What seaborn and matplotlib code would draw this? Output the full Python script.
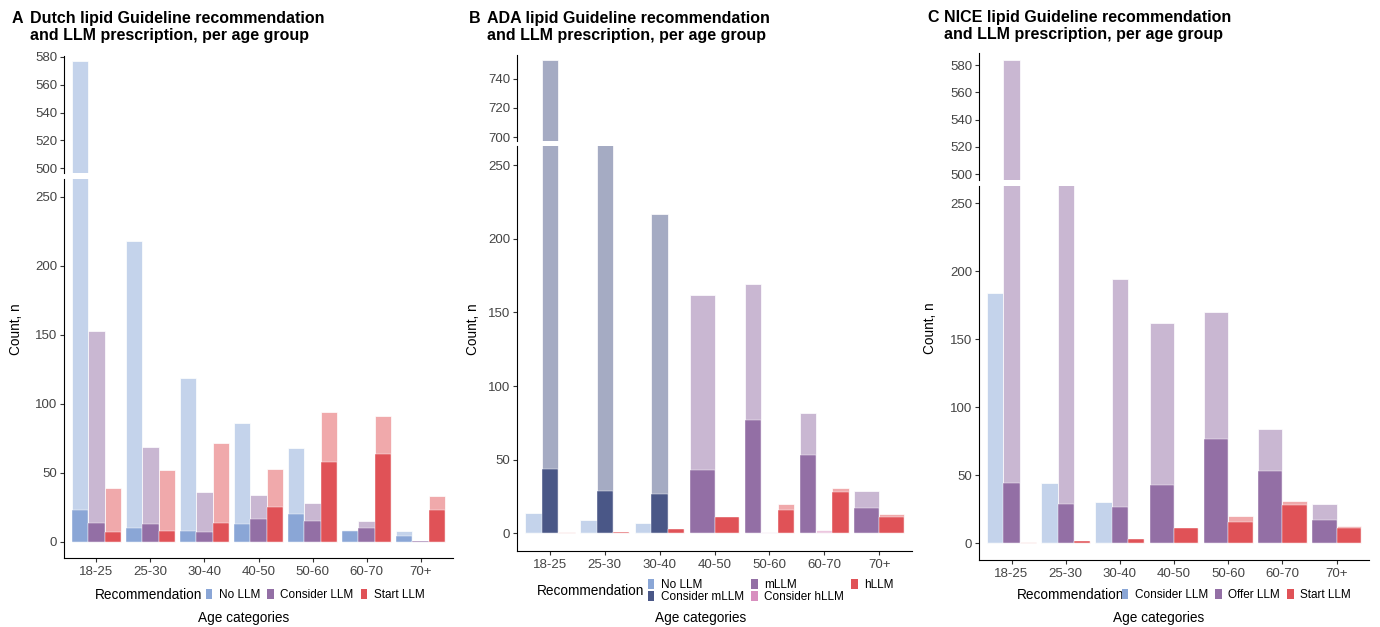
import matplotlib
matplotlib.use('Agg')
import matplotlib.pyplot as plt
from matplotlib.colors import to_rgb
from matplotlib.patches import Patch
import pandas as pd
import seaborn as sns

ages = ['18-25', '25-30', '30-40', '40-50', '50-60', '60-70', '70+']

# A: Dutch guideline (light = guideline recommendation, dark = LLM prescription)
dutch_recs = ['No LLM', 'Consider LLM', 'Start LLM']
dutch_no_guide = [577, 218, 119, 86, 68, 9, 8]
dutch_no_llm = [23, 10, 8, 13, 20, 8, 4]
dutch_consider_guide = [153, 69, 36, 34, 28, 15, 1]
dutch_consider_llm = [14, 13, 7, 17, 15, 10, 1]
dutch_start_guide = [39, 52, 72, 53, 94, 91, 33]
dutch_start_llm = [7, 8, 14, 25, 58, 64, 23]

# B: ADA guideline (None = category not recommended in that age group)
ada_recs = ['No LLM', 'Consider mLLM', 'mLLM', 'Consider hLLM', 'hLLM']
ada_no_guide = [14, 9, 7, None, None, None, None]
ada_no_llm = [0, 0, 0, None, None, None, None]
ada_cons_m_guide = [753, 268, 217, None, None, None, None]
ada_cons_m_llm = [44, 29, 27, None, None, None, None]
ada_m_guide = [None, None, None, 162, 169, 82, 29]
ada_m_llm = [None, None, None, 43, 77, 53, 17]
ada_cons_h_guide = [None, None, None, None, 1, 2, None]
ada_cons_h_llm = [None, None, None, None, 0, 0, None]
ada_h_guide = [1, 1, 3, 11, 20, 31, 13]
ada_h_llm = [0, 1, 3, 11, 16, 28, 11]

# C: NICE guideline
nice_recs = ['Consider LLM', 'Offer LLM', 'Start LLM']
nice_consider_guide = [184, 44, 30, None, None, None, None]
nice_consider_llm = [0, 0, 0, None, None, None, None]
nice_offer_guide = [584, 270, 194, 162, 170, 84, 29]
nice_offer_llm = [44, 29, 27, 43, 77, 53, 17]
nice_start_guide = [1, 2, 3, 11, 20, 31, 13]
nice_start_llm = [0, 2, 3, 11, 16, 28, 11]

BLUE, PURPLE, RED = '#8AA6D6', '#936FA5', '#E05257'
NAVY, PINK = '#4A5787', '#D88FBF'


def build_table(recs, series):
    rows = []
    for rec, (guide, llm) in zip(recs, series):
        for i, (g, l) in enumerate(zip(guide, llm)):
            if g is not None:
                rows.append({'age_idx': i, 'rec': rec, 'order': recs.index(rec),
                             'guide': g, 'llm': l})
    df = pd.DataFrame(rows).sort_values(['age_idx', 'order']).reset_index(drop=True)
    # ggplot-like dodge: categories present in a group share 0.9 of the slot
    df['k'] = df.groupby('age_idx').cumcount()
    df['n'] = df.groupby('age_idx')['guide'].transform('count')
    df['pos'] = df['age_idx'] - 0.45 + 0.9 / df['n'] * (df['k'] + 0.5)
    return df


def lighten(c, a=0.5):
    r, g, b = to_rgb(c)
    return (1 - a + a * r, 1 - a + a * g, 1 - a + a * b)


panels = [
    dict(letter='A', title=['Dutch lipid Guideline recommendation', 'and LLM prescription, per age group'],
         df=build_table(dutch_recs, [(dutch_no_guide, dutch_no_llm),
                                     (dutch_consider_guide, dutch_consider_llm),
                                     (dutch_start_guide, dutch_start_llm)]),
         recs=dutch_recs, pal=dict(zip(dutch_recs, [BLUE, PURPLE, RED])),
         x=(64, 453), top=(56, 173), bot=(179, 558), toplim=(496.5, 580.7), botlim=(-11.6, 263),
         topticks=[500, 520, 540, 560, 580], letter_x=12, title_x=30, base=(22.7, 40),
         ylab=(15.5, 329), xlab=(244, 618), legtitle_x=95, leg_x=206, leg_y=595, ncol=3),
    dict(letter='B', title=['ADA lipid Guideline recommendation', 'and LLM prescription, per age group'],
         df=build_table(ada_recs, [(ada_no_guide, ada_no_llm), (ada_cons_m_guide, ada_cons_m_llm),
                                   (ada_m_guide, ada_m_llm), (ada_cons_h_guide, ada_cons_h_llm),
                                   (ada_h_guide, ada_h_llm)]),
         recs=ada_recs, pal=dict(zip(ada_recs, [BLUE, NAVY, PURPLE, PINK, RED])),
         x=(517, 912), top=(55, 141), bot=(146, 551), toplim=(697.3, 756.2), botlim=(-12, 263),
         topticks=[700, 720, 740], letter_x=469, title_x=487, base=(22.7, 40),
         ylab=(473, 329), xlab=(701, 618), legtitle_x=537, leg_x=648, leg_y=591, ncol=3),
    dict(letter='C', title=['NICE lipid Guideline recommendation', 'and LLM prescription, per age group'],
         df=build_table(nice_recs, [(nice_consider_guide, nice_consider_llm),
                                    (nice_offer_guide, nice_offer_llm),
                                    (nice_start_guide, nice_start_llm)]),
         recs=nice_recs, pal=dict(zip(nice_recs, [BLUE, PURPLE, RED])),
         x=(979, 1369), top=(53, 180), bot=(186, 560), toplim=(495.7, 589), botlim=(-12.3, 262.7),
         topticks=[500, 520, 540, 560, 580], letter_x=927, title_x=944, base=(22, 38.5),
         ylab=(930.5, 328), xlab=(1159, 618), legtitle_x=1017, leg_x=1122, leg_y=595, ncol=3),
]

sns.set_theme(style='ticks')
plt.rcParams['font.family'] = ['Liberation Sans', 'DejaVu Sans']
plt.rcParams['text.color'] = 'black'

W, H = 1380, 627
fig = plt.figure(figsize=(W / 100, H / 100), dpi=100)


def add_ax(x, y):
    return fig.add_axes([x[0] / W, 1 - y[1] / H, (x[1] - x[0]) / W, (y[1] - y[0]) / H])


TICK_COLOR = '#333333'
LABEL_COLOR = '#444444'

for p in panels:
    ax_top = add_ax(p['x'], p['top'])
    ax_bot = add_ax(p['x'], p['bot'])
    df = p['df']
    light = {k: lighten(v) for k, v in p['pal'].items()}
    for ax in (ax_top, ax_bot):
        for _, grp in df.groupby('age_idx'):
            sns.barplot(data=grp, x='pos', y='guide', hue='rec', palette=light, native_scale=True,
                        dodge=False, width=1, errorbar=None, legend=False, orient='x',
                        saturation=1, edgecolor='white', linewidth=0.5, ax=ax)
            sns.barplot(data=grp, x='pos', y='llm', hue='rec', palette=p['pal'], native_scale=True,
                        dodge=False, width=1, errorbar=None, legend=False, orient='x',
                        saturation=1, edgecolor='white', linewidth=0.3, ax=ax)
        ax.set_xlim(-0.6, len(ages) - 0.4)
        ax.set_xlabel('')
        ax.set_ylabel('')
        for s in ('top', 'right'):
            ax.spines[s].set_visible(False)
        ax.spines['left'].set_color('black')
        ax.spines['left'].set_linewidth(0.8)
        ax.tick_params(axis='y', length=3, width=0.8, color=TICK_COLOR, labelcolor=LABEL_COLOR,
                       labelsize=9.5, pad=2)

    ax_top.set_ylim(*p['toplim'])
    ax_top.set_yticks(p['topticks'])
    ax_top.spines['bottom'].set_visible(False)
    ax_top.set_xticks([])

    ax_bot.set_ylim(*p['botlim'])
    ax_bot.set_yticks([0, 50, 100, 150, 200, 250])
    ax_bot.spines['bottom'].set_color('black')
    ax_bot.spines['bottom'].set_linewidth(0.8)
    ax_bot.set_xticks(range(len(ages)))
    ax_bot.set_xticklabels(ages)
    ax_bot.tick_params(axis='x', length=3, width=0.8, color=TICK_COLOR, labelcolor=LABEL_COLOR,
                       labelsize=9.5, pad=3)

    # titles
    fig.text(p['letter_x'] / W, 1 - p['base'][0] / H, p['letter'], fontsize=11.5,
             fontweight='bold', va='baseline', ha='left')
    for line, b in zip(p['title'], p['base']):
        fig.text(p['title_x'] / W, 1 - b / H, line, fontsize=11.5, fontweight='bold',
                 va='baseline', ha='left')

    fig.text(p['ylab'][0] / W, 1 - p['ylab'][1] / H, 'Count, n', rotation=90, fontsize=9.8,
             ha='center', va='center')
    fig.text(p['xlab'][0] / W, 1 - p['xlab'][1] / H, 'Age categories', fontsize=9.8,
             ha='center', va='center')

    # legend
    fig.text(p['legtitle_x'] / W, 1 - p['leg_y'] / H, 'Recommendation', fontsize=9.8,
             ha='left', va='center')
    handles = [Patch(facecolor=p['pal'][r], edgecolor='none', label=r) for r in p['recs']]
    fig.legend(handles=handles, loc='center left', bbox_to_anchor=(p['leg_x'] / W, 1 - p['leg_y'] / H),
               ncol=p['ncol'], frameon=False, fontsize=8.5, handlelength=0.55, handleheight=0.95,
               handletextpad=0.55, columnspacing=0.6, labelspacing=0.0, borderpad=0,
               borderaxespad=0, labelcolor='black')

fig.savefig('out.png', dpi=100)
